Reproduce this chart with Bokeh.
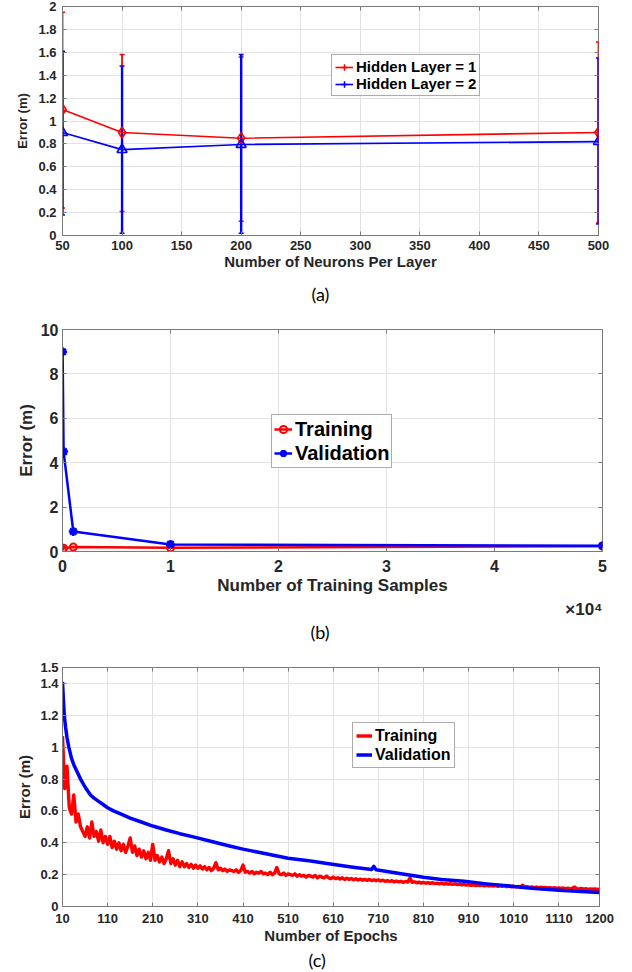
from bokeh.plotting import figure
from bokeh.models import (Range1d, FixedTicker, LinearAxis, Whisker, TeeHead,
                          Legend, LegendItem, Title, ColumnDataSource)
from bokeh.layouts import column
from bokeh.embed import file_html
from bokeh.resources import INLINE

# ---------------- data: panel (a) ----------------
neurons = [50, 100, 200, 500]
h1_err = [1.10, 0.90, 0.85, 0.90]
h1_upper = [1.95, 1.58, 1.56, 1.69]
h1_lower = [0.24, 0.21, 0.125, 0.11]
h2_err = [0.90, 0.75, 0.795, 0.82]
h2_upper = [1.61, 1.48, 1.58, 1.55]
h2_lower = [0.18, 0.02, 0.02, 0.10]
a_xticks = [50, 100, 150, 200, 250, 300, 350, 400, 450, 500]
a_yticks = [0, 0.2, 0.4, 0.6, 0.8, 1, 1.2, 1.4, 1.6, 1.8, 2]
a_ylabels = ["0", "0.2", "0.4", "0.6", "0.8", "1", "1.2", "1.4", "1.6", "1.8", "2"]

# ---------------- data: panel (b) ----------------
samples = [10, 100, 1000, 10000, 50000]
train_b = [0.08, 0.15, 0.20, 0.17, 0.24]
valid_b = [9.0, 4.5, 0.9, 0.32, 0.26]
b_xticks = [0, 10000, 20000, 30000, 40000, 50000]
b_xlabels = ["0", "1", "2", "3", "4", "5"]
b_yticks = [0, 2, 4, 6, 8, 10]

# ---------------- data: panel (c) ----------------
train_c = [
    1.07, 0.74, 0.88, 0.62, 0.58, 0.70, 0.53, 0.58, 0.50, 0.47,
    0.44, 0.50, 0.43, 0.53, 0.44, 0.47, 0.41, 0.48, 0.40, 0.44,
    0.39, 0.44, 0.37, 0.41, 0.36, 0.40, 0.35, 0.39, 0.34, 0.38,
    0.43, 0.34, 0.38, 0.32, 0.36, 0.31, 0.35, 0.30, 0.34, 0.29,
    0.39, 0.29, 0.32, 0.28, 0.31, 0.27, 0.30, 0.35, 0.27, 0.30,
    0.26, 0.29, 0.25, 0.28, 0.25, 0.27, 0.245, 0.265, 0.24, 0.26,
    0.24, 0.255, 0.235, 0.25, 0.23, 0.245, 0.225, 0.24, 0.275, 0.23,
    0.24, 0.225, 0.235, 0.22, 0.23, 0.225, 0.22, 0.23, 0.215, 0.225,
    0.26, 0.215, 0.22, 0.21, 0.22, 0.205, 0.215, 0.21, 0.22, 0.205,
    0.21, 0.20, 0.215, 0.20, 0.21, 0.245, 0.205, 0.20, 0.21, 0.195,
    0.205, 0.20, 0.195, 0.205, 0.19, 0.20, 0.19, 0.195, 0.185, 0.195,
    0.19, 0.185, 0.195, 0.18, 0.19, 0.185, 0.18, 0.19, 0.18, 0.175,
    0.185, 0.175, 0.18, 0.172, 0.18, 0.17, 0.178, 0.17, 0.176, 0.168,
    0.174, 0.166, 0.172, 0.165, 0.17, 0.164, 0.17, 0.163, 0.168, 0.162,
    0.167, 0.16, 0.165, 0.158, 0.163, 0.157, 0.162, 0.155, 0.16, 0.154,
    0.158, 0.152, 0.157, 0.153, 0.178, 0.152, 0.155, 0.149, 0.153, 0.147,
    0.151, 0.146, 0.15, 0.145, 0.149, 0.144, 0.147, 0.142, 0.146, 0.141,
    0.144, 0.14, 0.143, 0.139, 0.142, 0.137, 0.14, 0.136, 0.139, 0.134,
    0.137, 0.133, 0.136, 0.132, 0.135, 0.131, 0.134, 0.13, 0.133, 0.129,
    0.132, 0.128, 0.131, 0.127, 0.13, 0.126, 0.129, 0.125, 0.128, 0.124,
    0.127, 0.123, 0.126, 0.122, 0.134, 0.121, 0.124, 0.12, 0.123, 0.119,
    0.122, 0.118, 0.121, 0.117, 0.12, 0.116, 0.119, 0.115, 0.118, 0.114,
    0.117, 0.113, 0.116, 0.112, 0.115, 0.111, 0.114, 0.122, 0.112, 0.11,
    0.113, 0.109, 0.112, 0.108, 0.111, 0.108, 0.11, 0.107, 0.109,
]
train_c_epochs = list(range(10, 10 + 5 * len(train_c), 5))
valid_c_epochs = [10, 12, 14, 17, 20, 24, 30, 35, 40, 50,
                  60, 72, 80, 90, 100, 110, 123, 140, 160, 180,
                  210, 240, 270, 300, 345, 380, 410, 450, 510, 560,
                  600, 650, 695, 700, 705, 750, 810, 850, 900, 950,
                  1010, 1050, 1110, 1150, 1200]
valid_c = [1.41, 1.30, 1.20, 1.12, 1.06, 1.00, 0.93, 0.89, 0.86, 0.80,
           0.75, 0.70, 0.68, 0.66, 0.64, 0.62, 0.60, 0.58, 0.555, 0.535,
           0.505, 0.48, 0.457, 0.437, 0.405, 0.38, 0.36, 0.337, 0.303, 0.285,
           0.268, 0.248, 0.232, 0.252, 0.23, 0.21, 0.183, 0.17, 0.158, 0.142,
           0.126, 0.115, 0.102, 0.095, 0.088]
c_xticks = [10, 110, 210, 310, 410, 510, 610, 710, 810, 910, 1010, 1110, 1200]
c_yticks = [0, 0.2, 0.4, 0.6, 0.8, 1, 1.2, 1.4, 1.5]
c_ylabels = ["0", "0.2", "0.4", "0.6", "0.8", "1", "1.2", "1.4", "1.5"]

FONT = "Liberation Sans"
CAP_FONT = "Lato"
TXT = "#262626"
EDGE = "#7a7a7a"
GRID = "#e2e2e2"
RED = "#ff0000"
BLUE = "#0000ff"


def make_fig(fw, fh, bl, br, bt, bb, xr, yr):
    p = figure(frame_width=fw, frame_height=fh,
               min_border_left=bl, min_border_right=br,
               min_border_top=bt, min_border_bottom=bb,
               x_range=Range1d(*xr), y_range=Range1d(*yr),
               output_backend="svg", toolbar_location=None,
               background_fill_color="white", border_fill_color="white")
    p.outline_line_color = EDGE
    p.outline_line_width = 1
    p.xgrid.grid_line_color = GRID
    p.ygrid.grid_line_color = GRID
    return p


def style_axis(ax, ticks, labels, fsize, label, lsize, tstand, lstand):
    ax.ticker = FixedTicker(ticks=ticks)
    ax.major_label_overrides = {t: s for t, s in zip(ticks, labels)}
    ax.major_label_text_font = FONT
    ax.major_label_text_font_style = "bold"
    ax.major_label_text_font_size = f"{fsize}px"
    ax.major_label_text_color = TXT
    ax.major_label_standoff = tstand
    ax.axis_label = label
    ax.axis_label_text_font = FONT
    ax.axis_label_text_font_style = "bold"
    ax.axis_label_text_font_size = f"{lsize}px"
    ax.axis_label_text_color = TXT
    ax.axis_label_standoff = lstand
    ax.major_tick_in = 4
    ax.major_tick_out = 0
    ax.minor_tick_line_color = None
    ax.axis_line_color = EDGE
    ax.major_tick_line_color = EDGE


def add_box_ticks(p, xticks, yticks):
    for ticks, side in ((yticks, "right"), (xticks, "above")):
        ax = LinearAxis(ticker=FixedTicker(ticks=ticks),
                        major_label_overrides={t: "" for t in ticks},
                        major_tick_in=4, major_tick_out=0,
                        major_label_standoff=0,
                        minor_tick_line_color=None, axis_line_color=None,
                        major_tick_line_color=EDGE)
        p.add_layout(ax, side)


def style_legend(lg, fsize, pad, spacing, standoff, gw, gh):
    lg.label_text_font = FONT
    lg.label_text_font_style = "bold"
    lg.label_text_font_size = f"{fsize}px"
    lg.label_text_color = "black"
    lg.border_line_color = "#5a5a5a"
    lg.border_line_width = 1
    lg.padding = pad
    lg.spacing = spacing
    lg.label_standoff = standoff
    lg.glyph_width = gw
    lg.glyph_height = gh
    lg.label_height = gh
    lg.margin = 0
    lg.background_fill_color = "white"
    lg.background_fill_alpha = 1


def caption(p, text, offset, standoff):
    p.add_layout(Title(text=text, align="left", offset=offset, standoff=standoff,
                       text_font=CAP_FONT, text_font_size="18px",
                       text_font_style="normal", text_color="black"), "below")


# ================= panel (a) =================
pa = make_fig(536, 229, 57, 30, 6, 75, (50, 500), (0, 2))
style_axis(pa.xaxis[0], a_xticks, [str(t) for t in a_xticks], 13,
           "Number of Neurons Per Layer", 15, 5, 0)
style_axis(pa.yaxis[0], a_yticks, a_ylabels, 13, "Error (m)", 13, 6, 5)
add_box_ticks(pa, a_xticks, a_yticks)

src1 = ColumnDataSource(dict(x=neurons, y=h1_err, up=h1_upper, lo=h1_lower))
src2 = ColumnDataSource(dict(x=neurons, y=h2_err, up=h2_upper, lo=h2_lower))
for src, col, lw in ((src1, RED, 1.8), (src2, BLUE, 2.4)):
    pa.add_layout(Whisker(source=src, base="x", upper="up", lower="lo",
                          dimension="height", line_color=col, line_width=lw,
                          upper_head=TeeHead(size=5, line_color=col, line_width=1.5),
                          lower_head=TeeHead(size=5, line_color=col, line_width=1.5)))
l1 = pa.line("x", "y", source=src1, line_color=RED, line_width=1.6)
pa.scatter("x", "y", source=src1, marker="diamond", size=11, fill_color=None,
           line_color=RED, line_width=1.6)
l2 = pa.line("x", "y", source=src2, line_color=BLUE, line_width=1.6)
pa.scatter("x", "y", source=src2, marker="triangle", size=10, fill_color=None,
           line_color=BLUE, line_width=1.6)
# legend-only error-bar symbols (drawn at zero size on the chart)
e1 = pa.scatter("x", "y", source=src1, marker="cross", size=0, line_color=RED, line_width=1.5)
e2 = pa.scatter("x", "y", source=src2, marker="cross", size=0, line_color=BLUE, line_width=1.5)
lga = Legend(items=[LegendItem(label="Hidden Layer = 1", renderers=[l1, e1]),
                    LegendItem(label="Hidden Layer = 2", renderers=[l2, e2])],
             location=(269, 139))
style_legend(lga, 15, 3, 0, 3, 18, 16)
pa.add_layout(lga)
caption(pa, "(a)", 249, 16)

# ================= panel (b) =================
pb = make_fig(540, 222, 58, 25, 17, 96, (0, 50000), (0, 10))
style_axis(pb.xaxis[0], b_xticks, b_xlabels, 16,
           "Number of Training Samples", 17, 8, 1)
style_axis(pb.yaxis[0], b_yticks, [str(t) for t in b_yticks], 16, "Error (m)", 17, 4, 2)
add_box_ticks(pb, b_xticks, b_yticks)

tl = pb.line(samples, train_b, line_color=RED, line_width=2.5)
tm = pb.scatter(samples, train_b, marker="circle", size=7, fill_color=None,
                line_color=RED, line_width=2)
vl = pb.line(samples, valid_b, line_color=BLUE, line_width=2.5)
vm = pb.scatter(samples, valid_b, marker="asterisk", size=9, line_color=BLUE,
                line_width=2.5)
lgb = Legend(items=[LegendItem(label="Training", renderers=[tl, tm]),
                    LegendItem(label="Validation", renderers=[vl, vm])],
             location=(209, 83))
style_legend(lgb, 20, 2, 0, 3, 18, 24)
pb.add_layout(lgb)
pb.add_layout(Title(text="\u00d710\u2074", align="right", offset=0, standoff=0,
                    text_font=FONT, text_font_size="17px", text_font_style="bold",
                    text_color=TXT), "below")
caption(pb, "(b)", 248, 0)

# ================= panel (c) =================
pc = make_fig(537, 239, 62, 25, 20, 62, (10, 1200), (0, 1.5))
style_axis(pc.xaxis[0], c_xticks, [str(t) for t in c_xticks], 13,
           "Number of Epochs", 15, 7, 1)
style_axis(pc.yaxis[0], c_yticks, c_ylabels, 13, "Error (m)", 15, 4, 4)
add_box_ticks(pc, c_xticks, c_yticks)

trl = pc.line(train_c_epochs, train_c, line_color=RED, line_width=3.4, line_join="round")
val = pc.line(valid_c_epochs, valid_c, line_color=BLUE, line_width=3.5, line_join="round")
lgc = Legend(items=[LegendItem(label="Training", renderers=[trl]),
                    LegendItem(label="Validation", renderers=[val])],
             location=(290, 138))
style_legend(lgc, 16, 3, 0, 3, 16, 19)
pc.add_layout(lgc)
caption(pc, "(c)", 246, 0)

layout = column(pa, pb, pc, spacing=0)
open("out.html", "w").write(file_html(layout, INLINE))
